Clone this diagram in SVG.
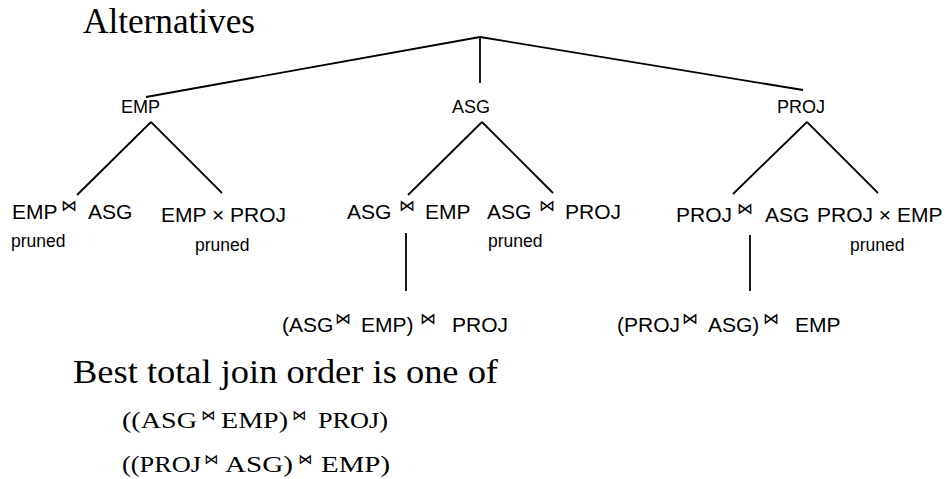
<svg xmlns="http://www.w3.org/2000/svg" width="945" height="479" viewBox="0 0 945 479">
<style>
.s{font-family:"Liberation Sans",Arial,sans-serif;fill:#000}
.t{font-size:18px}
.m{font-size:21px}
.p{font-size:17.5px}
.bt{font-family:"DejaVu Sans",sans-serif;font-size:16px;fill:#000}
.bs{font-family:"DejaVu Sans",sans-serif;font-size:14px;fill:#000}
.r{font-family:"Liberation Serif","Times New Roman",serif;fill:#000}
.c line{stroke:#000;stroke-width:1.8;fill:none}
</style>
<rect width="945" height="479" fill="#fff"/>
<g id="title"><text class="r" x="83" y="33" font-size="35" textLength="172" lengthAdjust="spacingAndGlyphs">Alternatives</text></g>
<g class="c" id="connectors">
<line x1="480" y1="37" x2="146" y2="97"/>
<line x1="480" y1="37" x2="480" y2="83"/>
<line x1="480" y1="37" x2="803" y2="90"/>
<line x1="151" y1="122" x2="77" y2="195"/>
<line x1="151" y1="122" x2="222" y2="193"/>
<line x1="482" y1="122" x2="408" y2="195"/>
<line x1="482" y1="122" x2="553" y2="193"/>
<line x1="807" y1="122" x2="733" y2="194"/>
<line x1="807" y1="122" x2="878" y2="193"/>
<line x1="406" y1="233" x2="406" y2="291"/>
<line x1="750" y1="235" x2="750" y2="291"/>
</g>
<g id="n-emp"><text class="s t" x="121" y="113">EMP</text></g>
<g id="n-asg"><text class="s t" x="452" y="113">ASG</text></g>
<g id="n-proj"><text class="s t" x="777" y="113">PROJ</text></g>
<g id="n-emp-asg">
<text class="s m" x="12" y="219">EMP</text>
<text class="bt" x="61" y="211">⋈</text>
<text class="s m" x="88" y="219">ASG</text>
<text class="s p" x="11" y="247">pruned</text>
</g>
<g id="n-emp-proj">
<text class="s m" x="161" y="222">EMP × PROJ</text>
<text class="s p" x="195" y="251">pruned</text>
</g>
<g id="n-asg-emp">
<text class="s m" x="347" y="219">ASG</text>
<text class="bt" x="399" y="211">⋈</text>
<text class="s m" x="425" y="219">EMP</text>
</g>
<g id="n-asg-proj">
<text class="s m" x="487" y="219">ASG</text>
<text class="bt" x="539" y="211">⋈</text>
<text class="s m" x="565" y="219">PROJ</text>
<text class="s p" x="488" y="247">pruned</text>
</g>
<g id="n-proj-asg">
<text class="s m" x="676" y="222">PROJ</text>
<text class="bt" x="737" y="214">⋈</text>
<text class="s m" x="765" y="222">ASG</text>
</g>
<g id="n-proj-emp">
<text class="s m" x="817" y="222">PROJ × EMP</text>
<text class="s p" x="850" y="251">pruned</text>
</g>
<g id="n-asg-emp-proj">
<text class="s m" x="282" y="332">(ASG</text>
<text class="bt" x="335" y="324">⋈</text>
<text class="s m" x="361" y="332">EMP)</text>
<text class="bt" x="420" y="324">⋈</text>
<text class="s m" x="452" y="332">PROJ</text>
</g>
<g id="n-proj-asg-emp">
<text class="s m" x="617" y="332">(PROJ</text>
<text class="bt" x="682" y="324">⋈</text>
<text class="s m" x="708" y="332">ASG)</text>
<text class="bt" x="763" y="324">⋈</text>
<text class="s m" x="795" y="332">EMP</text>
</g>
<g id="summary">
<text class="r" x="73" y="383" font-size="33" textLength="425" lengthAdjust="spacingAndGlyphs">Best total join order is one of</text>
<text class="r" x="122" y="428" font-size="23" textLength="75" lengthAdjust="spacingAndGlyphs">((ASG</text>
<text class="bs" x="201" y="420">⋈</text>
<text class="r" x="221" y="428" font-size="23" textLength="67" lengthAdjust="spacingAndGlyphs">EMP)</text>
<text class="bs" x="292" y="420">⋈</text>
<text class="r" x="318" y="428" font-size="23" textLength="70" lengthAdjust="spacingAndGlyphs">PROJ)</text>
<text class="r" x="122" y="472" font-size="23" textLength="79" lengthAdjust="spacingAndGlyphs">((PROJ</text>
<text class="bs" x="204" y="464">⋈</text>
<text class="r" x="225" y="472" font-size="23" textLength="68" lengthAdjust="spacingAndGlyphs">ASG)</text>
<text class="bs" x="298" y="464">⋈</text>
<text class="r" x="321" y="472" font-size="23" textLength="69" lengthAdjust="spacingAndGlyphs">EMP)</text>
</g>
</svg>
